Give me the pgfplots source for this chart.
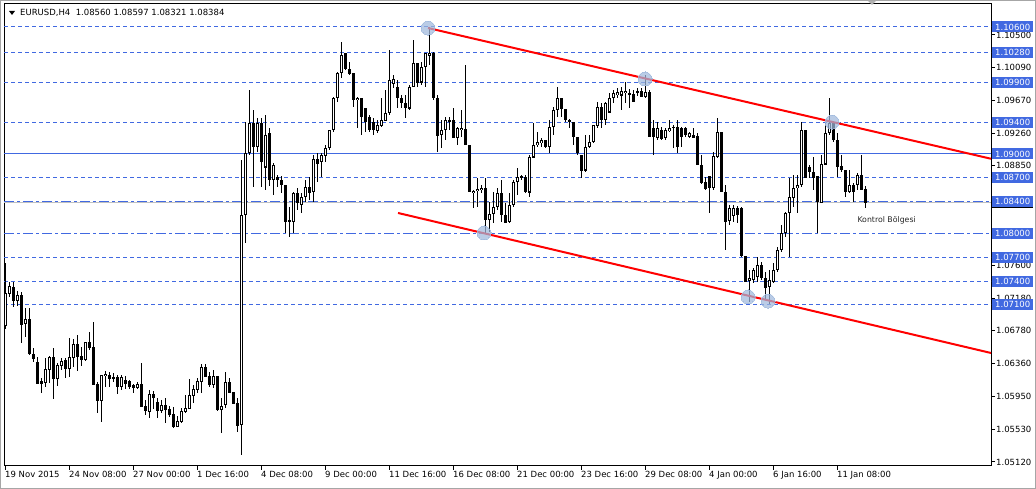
\documentclass[border=0pt]{standalone}
\usepackage{fontspec}
\setmainfont{DejaVu Sans}
\usepackage{pgfplots}
\pgfplotsset{compat=1.18}
\usepackage{pgfplotstable}
\definecolor{mtblue}{RGB}{65,105,225}
\definecolor{bidgrey}{RGB}{192,192,192}
\definecolor{touch}{RGB}{160,185,220}
\newcommand\mtf{\fontsize{8.5bp}{10bp}\selectfont}

\pgfplotstableread{
x o h l c
0 1.06833 1.07623 1.06800 1.07245
1 1.07245 1.07392 1.07195 1.07329
2 1.07321 1.07392 1.07077 1.07153
3 1.07153 1.07279 1.07085 1.07224
4 1.07224 1.07266 1.06615 1.06854
5 1.06867 1.07056 1.06699 1.06917
6 1.06917 1.07056 1.06468 1.06481
7 1.06481 1.06552 1.06384 1.06426
8 1.06376 1.06439 1.06103 1.06111
9 1.06132 1.06183 1.05985 1.06111
10 1.06120 1.06426 1.06069 1.06288
11 1.06288 1.06456 1.06120 1.06439
12 1.06439 1.06552 1.05910 1.06174
13 1.06174 1.06363 1.06082 1.06342
14 1.06330 1.06426 1.06279 1.06384
15 1.06397 1.06426 1.06174 1.06300
16 1.06300 1.06678 1.06195 1.06439
17 1.06439 1.06665 1.06313 1.06607
18 1.06607 1.06720 1.06271 1.06447
19 1.06456 1.06573 1.06330 1.06413
20 1.06413 1.06636 1.06397 1.06623
21 1.06628 1.06762 1.06531 1.06565
22 1.06565 1.06888 1.06090 1.06098
23 1.06103 1.06132 1.05742 1.05893
24 1.05893 1.06216 1.05628 1.06216
25 1.06204 1.06267 1.06069 1.06229
26 1.06216 1.06258 1.06069 1.06174
27 1.06183 1.06237 1.06132 1.06170
28 1.06183 1.06216 1.05972 1.06069
29 1.06069 1.06216 1.06027 1.06187
30 1.06153 1.06204 1.06036 1.06103
31 1.06132 1.06153 1.06036 1.06069
32 1.06086 1.06103 1.05994 1.06061
33 1.06061 1.06132 1.06040 1.06103
34 1.06103 1.06363 1.05817 1.05817
35 1.05826 1.05901 1.05712 1.05767
36 1.05754 1.06027 1.05670 1.05977
37 1.05977 1.06019 1.05784 1.05935
38 1.05868 1.05922 1.05670 1.05767
39 1.05767 1.05901 1.05733 1.05838
40 1.05838 1.05922 1.05616 1.05784
41 1.05784 1.05826 1.05691 1.05720
42 1.05725 1.05817 1.05544 1.05565
43 1.05565 1.05700 1.05565 1.05628
44 1.05628 1.05796 1.05607 1.05754
45 1.05754 1.05964 1.05742 1.05796
46 1.05796 1.06162 1.05784 1.05964
47 1.05952 1.06090 1.05859 1.06036
48 1.06036 1.06174 1.05985 1.06136
49 1.06136 1.06355 1.05994 1.06309
50 1.06309 1.06355 1.06187 1.06195
51 1.06195 1.06258 1.06069 1.06090
52 1.06090 1.06279 1.06048 1.06195
53 1.06195 1.06195 1.05767 1.05784
54 1.05784 1.05922 1.05481 1.05826
55 1.05838 1.06258 1.05796 1.06124
56 1.06124 1.06174 1.05985 1.05994
57 1.05998 1.06006 1.05851 1.05859
58 1.05859 1.05922 1.05502 1.05578
59 1.05586 1.08924 1.05208 1.08232
60 1.08232 1.09403 1.07879 1.09013
61 1.09013 1.09806 1.08987 1.09391
62 1.09391 1.09554 1.08584 1.09089
63 1.09089 1.09454 1.09025 1.09391
64 1.09391 1.09454 1.08584 1.08899
65 1.08836 1.09491 1.08547 1.09239
66 1.09265 1.09328 1.08597 1.08673
67 1.08673 1.08887 1.08484 1.08861
68 1.08710 1.08735 1.08584 1.08673
69 1.08673 1.08723 1.08509 1.08610
70 1.08610 1.08610 1.08005 1.08143
71 1.08169 1.08332 1.07954 1.08143
72 1.08143 1.08521 1.08005 1.08509
73 1.08509 1.08572 1.08295 1.08383
74 1.08358 1.08509 1.08257 1.08458
75 1.08458 1.08673 1.08395 1.08584
76 1.08584 1.08710 1.08421 1.08521
77 1.08521 1.08987 1.08395 1.08937
78 1.08937 1.09013 1.08647 1.08874
79 1.08899 1.09013 1.08710 1.08987
80 1.08987 1.09113 1.08899 1.09076
81 1.09076 1.09302 1.09050 1.09302
82 1.09302 1.09718 1.09277 1.09706
83 1.09706 1.10033 1.09655 1.10021
84 1.10021 1.10411 1.09958 1.10247
85 1.10272 1.10272 1.10058 1.10071
86 1.10071 1.10159 1.09995 1.10008
87 1.10021 1.10021 1.09592 1.09680
88 1.09680 1.09718 1.09328 1.09706
89 1.09706 1.09706 1.09239 1.09466
90 1.09580 1.09580 1.09277 1.09403
91 1.09466 1.09491 1.09277 1.09302
92 1.09403 1.09454 1.09239 1.09302
93 1.09302 1.09428 1.09265 1.09365
94 1.09353 1.09706 1.09340 1.09428
95 1.09428 1.09806 1.09428 1.09517
96 1.09517 1.10310 1.09491 1.09932
97 1.09894 1.09995 1.09831 1.09945
98 1.09844 1.09932 1.09580 1.09706
99 1.09706 1.09743 1.09580 1.09643
100 1.09643 1.09743 1.09454 1.09580
101 1.09580 1.09869 1.09554 1.09844
102 1.09844 1.10436 1.09844 1.10146
103 1.10146 1.10146 1.09844 1.09907
104 1.09907 1.10159 1.09869 1.10096
105 1.10096 1.10272 1.09844 1.10272
106 1.10247 1.10600 1.10121 1.10272
107 1.10272 1.10285 1.09680 1.09706
108 1.09706 1.09743 1.09025 1.09239
109 1.09239 1.09428 1.09076 1.09302
110 1.09302 1.09466 1.09176 1.09428
111 1.09428 1.09466 1.09302 1.09416
112 1.09428 1.09580 1.09202 1.09202
113 1.09202 1.09340 1.09113 1.09328
114 1.09302 1.09554 1.09214 1.09328
115 1.09315 1.10121 1.09113 1.09113
116 1.09113 1.09113 1.08521 1.08521
117 1.08509 1.08547 1.08320 1.08534
118 1.08534 1.08698 1.08332 1.08559
119 1.08547 1.08610 1.08509 1.08572
120 1.08572 1.08698 1.08005 1.08169
121 1.08169 1.08395 1.08018 1.08244
122 1.08244 1.08521 1.08131 1.08332
123 1.08332 1.08572 1.08295 1.08509
124 1.08509 1.08673 1.08143 1.08232
125 1.08232 1.08383 1.08131 1.08143
126 1.08143 1.08509 1.08131 1.08358
127 1.08358 1.08673 1.08332 1.08647
128 1.08647 1.08824 1.08484 1.08710
129 1.08710 1.08735 1.08673 1.08723
130 1.08710 1.08735 1.08509 1.08521
131 1.08521 1.08987 1.08458 1.08962
132 1.08962 1.09391 1.08949 1.09113
133 1.09113 1.09277 1.09088 1.09151
134 1.09139 1.09202 1.09088 1.09176
135 1.09176 1.09176 1.09076 1.09088
136 1.09088 1.09428 1.09013 1.09340
137 1.09340 1.09592 1.09239 1.09554
138 1.09554 1.09844 1.09466 1.09706
139 1.09706 1.09706 1.09466 1.09567
140 1.09567 1.09567 1.09403 1.09428
141 1.09428 1.09441 1.09328 1.09403
142 1.09403 1.09403 1.09113 1.09214
143 1.09214 1.09214 1.08987 1.09013
144 1.08987 1.08987 1.08698 1.08798
145 1.08798 1.09239 1.08773 1.09088
146 1.09088 1.09239 1.09076 1.09151
147 1.09151 1.09365 1.09139 1.09365
148 1.09365 1.09655 1.09328 1.09592
149 1.09592 1.09643 1.09328 1.09428
150 1.09428 1.09655 1.09365 1.09643
151 1.09529 1.09769 1.09517 1.09706
152 1.09706 1.09806 1.09643 1.09769
153 1.09743 1.09831 1.09706 1.09781
154 1.09743 1.09844 1.09554 1.09794
155 1.09769 1.09907 1.09643 1.09794
156 1.09769 1.09819 1.09580 1.09743
157 1.09756 1.09806 1.09655 1.09655
158 1.09781 1.09831 1.09731 1.09794
159 1.09794 1.09831 1.09718 1.09718
160 1.09718 1.09995 1.09706 1.09781
161 1.09781 1.09806 1.09214 1.09214
162 1.09328 1.09428 1.08987 1.09214
163 1.09202 1.09403 1.09176 1.09328
164 1.09302 1.09340 1.09176 1.09189
165 1.09202 1.09328 1.09176 1.09302
166 1.09290 1.09428 1.09277 1.09328
167 1.09328 1.09365 1.09076 1.09340
168 1.09340 1.09428 1.09013 1.09088
169 1.09328 1.09340 1.09088 1.09214
170 1.09328 1.09340 1.09214 1.09239
171 1.09214 1.09277 1.09202 1.09265
172 1.09239 1.09328 1.09202 1.09214
173 1.09227 1.09265 1.08861 1.08861
174 1.08861 1.08987 1.08622 1.08635
175 1.08647 1.08710 1.08547 1.08559
176 1.08723 1.08723 1.08257 1.08572
177 1.08572 1.09025 1.08547 1.08975
178 1.08962 1.09454 1.08949 1.09277
179 1.09277 1.09277 1.08521 1.08521
180 1.08521 1.08610 1.07791 1.08156
181 1.08156 1.08358 1.08106 1.08320
182 1.08219 1.08358 1.08143 1.08320
183 1.08320 1.08345 1.08131 1.08232
184 1.08320 1.08332 1.07703 1.07715
185 1.07715 1.07715 1.07388 1.07400
186 1.07400 1.07539 1.07136 1.07438
187 1.07413 1.07564 1.07375 1.07539
188 1.07451 1.07703 1.07388 1.07602
189 1.07602 1.07640 1.07413 1.07438
190 1.07438 1.07514 1.07161 1.07324
191 1.07324 1.07539 1.07110 1.07413
192 1.07388 1.07627 1.07375 1.07539
193 1.07539 1.07829 1.07514 1.07791
194 1.07791 1.08106 1.07766 1.08005
195 1.08005 1.08270 1.07954 1.08257
196 1.08257 1.08698 1.07703 1.08458
197 1.08446 1.08735 1.08332 1.08572
198 1.08572 1.08735 1.08257 1.08610
199 1.08610 1.09403 1.08584 1.09302
200 1.09302 1.09302 1.08698 1.08698
201 1.08836 1.08861 1.08698 1.08773
202 1.08773 1.08962 1.08547 1.08710
203 1.08723 1.08723 1.08005 1.08395
204 1.08395 1.08987 1.08383 1.08874
205 1.08874 1.09403 1.08861 1.09265
206 1.09265 1.09706 1.09239 1.09391
207 1.09391 1.09403 1.09151 1.09176
208 1.09176 1.09265 1.08710 1.08836
209 1.08849 1.08987 1.08773 1.08798
210 1.08798 1.08798 1.08458 1.08521
211 1.08521 1.08798 1.08509 1.08610
212 1.08610 1.08635 1.08395 1.08521
213 1.08610 1.08761 1.08547 1.08735
214 1.08735 1.08987 1.08547 1.08547
215 1.08560 1.08597 1.08321 1.08384
}\candles

\begin{document}
\begin{tikzpicture}[x=1bp,y=1bp]
\path[use as bounding box] (0,0) rectangle (1036,489);
\draw[black!35, line width=1bp] (0.5,0.5) rectangle (1035.5,488.5);
\begin{axis}[
  at={(4bp,23bp)}, anchor=south west, scale only axis,
  width=987bp, height=462bp,
  xmin=-0.25, xmax=246.5, ymin=1.050695, ymax=1.108898,
  axis line style={black, line width=1bp},
  tick align=outside, major tick length=4bp,
  tick style={black, line width=1bp},
  xtick pos=left, ytick pos=right, yticklabel pos=right,
  xtick={0,16,32,48,64,80,96,112,128,144,160,176,192,208},
  xticklabels={19 Nov 2015,24 Nov 08:00,27 Nov 00:00,1 Dec 16:00,4 Dec 08:00,9 Dec 00:00,11 Dec 16:00,16 Dec 08:00,21 Dec 00:00,23 Dec 16:00,29 Dec 08:00,4 Jan 00:00,6 Jan 16:00,11 Jan 08:00},
  ytick={1.0512,1.0553,1.0595,1.0636,1.0678,1.0718,1.0760,1.0885,1.0926,1.0967,1.1009,1.1050},
  yticklabels={1.05120,1.05530,1.05950,1.06360,1.06780,1.07180,1.07600,1.08850,1.09260,1.09670,1.10090,1.10500},
  xticklabel style={font=\mtf, anchor=north west, inner sep=0pt, xshift=0bp, yshift=-1bp},
  yticklabel style={font=\mtf, anchor=west, inner sep=0pt, xshift=1bp},
  /pgf/number format/assume math mode=true,
  scaled y ticks=false,
]
% horizontal levels
\pgfplotsinvokeforeach{1.1060,1.1028,1.0990,1.0940,1.0870,1.0770,1.0740,1.0710}{
  \addplot[mtblue, line width=1bp, dash pattern=on 4bp off 3bp, forget plot] coordinates {(-0.25,#1) (246.5,#1)};
}
\addplot[mtblue, line width=1bp, forget plot] coordinates {(-0.25,1.0900) (246.5,1.0900)};
\addplot[bidgrey, line width=1bp, forget plot] coordinates {(-0.25,1.08384) (246.5,1.08384)};
\addplot[mtblue, line width=1bp, dash pattern=on 10bp off 3bp on 3bp off 3bp, forget plot] coordinates {(-0.25,1.0840) (246.5,1.0840)};
\addplot[mtblue, line width=1bp, dash pattern=on 10bp off 3bp on 3bp off 3bp, forget plot] coordinates {(-0.25,1.0800) (246.5,1.0800)};
% wicks
\addplot[draw=none, mark=none, forget plot,
  error bars/.cd, y dir=both, y explicit, error mark=none,
  error bar style={draw=black, line width=1bp, solid}]
  table[x=x, y expr={(\thisrow{h}+\thisrow{l})/2}, y error expr={(\thisrow{h}-\thisrow{l})/2}] {\candles};
% bodies
\addplot[draw=none, mark=none, forget plot,
  error bars/.cd, y dir=both, y explicit, error mark=none,
  error bar style={draw=black, line width=3bp, solid}]
  table[x=x, y expr={(\thisrow{o}+\thisrow{c})/2}, y error expr={abs(\thisrow{c}-\thisrow{o})/2+0.00005}] {\candles};
% hollow (bullish) interiors
\addplot[draw=none, mark=none, forget plot,
  error bars/.cd, y dir=both, y explicit, error mark=none,
  error bar style={draw=white, line width=1bp, solid}]
  table[x=x, y expr={(\thisrow{o}+\thisrow{c})/2}, y error expr={max((\thisrow{c}-\thisrow{o})/2-0.00008,0)}] {\candles};
% channel lines
\addplot[red, line width=2bp, forget plot] coordinates {(105.75,1.10587) (246.5,1.08940)};
\addplot[red, line width=2bp, forget plot] coordinates {(98.25,1.08257) (246.5,1.06493)};
% touch points
\addplot[only marks, color=touch, mark=*, mark size=7bp, mark options={draw=touch, fill=touch, line width=0pt, opacity=0.72}, forget plot]
  coordinates {(105.75,1.10587) (160,1.09945) (206.75,1.09403) (119.75,1.08005) (185.75,1.07199) (190.75,1.07148)};
\node[font=\fontsize{7.8bp}{9bp}\selectfont, text=black!85] at (axis cs:220.4,1.08169) {Kontrol Bölgesi};
% anchors for right-hand price labels
\coordinate (p1) at (axis cs:246.5,1.1060);
\coordinate (p2) at (axis cs:246.5,1.1028);
\coordinate (p3) at (axis cs:246.5,1.0990);
\coordinate (p4) at (axis cs:246.5,1.0940);
\coordinate (p5) at (axis cs:246.5,1.0900);
\coordinate (p6) at (axis cs:246.5,1.0870);
\coordinate (bid) at (axis cs:246.5,1.08384);
\coordinate (p7) at (axis cs:246.5,1.0840);
\coordinate (p8) at (axis cs:246.5,1.0800);
\coordinate (p9) at (axis cs:246.5,1.0770);
\coordinate (p10) at (axis cs:246.5,1.0740);
\coordinate (p11) at (axis cs:246.5,1.0710);
\end{axis}
\tikzset{lbl/.style={fill=mtblue, text=white, font=\mtf, minimum width=41bp, minimum height=11bp, inner sep=0pt, anchor=west}}
\node[fill=black, minimum width=41bp, minimum height=11bp, inner sep=0pt, anchor=west] at ([xshift=1bp]bid) {};
\node[lbl] at ([xshift=1bp]p1) {1.10600};
\node[lbl] at ([xshift=1bp]p2) {1.10280};
\node[lbl] at ([xshift=1bp]p3) {1.09900};
\node[lbl] at ([xshift=1bp]p4) {1.09400};
\node[lbl] at ([xshift=1bp]p5) {1.09000};
\node[lbl] at ([xshift=1bp]p6) {1.08700};
\node[lbl] at ([xshift=1bp]p7) {1.08400};
\node[lbl] at ([xshift=1bp]p8) {1.08000};
\node[lbl] at ([xshift=1bp]p9) {1.07700};
\node[lbl] at ([xshift=1bp]p10) {1.07400};
\node[lbl] at ([xshift=1bp]p11) {1.07100};
% header
\fill[black] (9,478) -- (15,478) -- (12,474) -- cycle;
\node[font=\mtf, anchor=base west, inner sep=0pt] at (20,473) {EURUSD,H4\ \ 1.08560 1.08597 1.08321 1.08384};
\fill[black!30] (868,488) -- (876,488) -- (872,484) -- cycle;
\end{tikzpicture}
\end{document}
